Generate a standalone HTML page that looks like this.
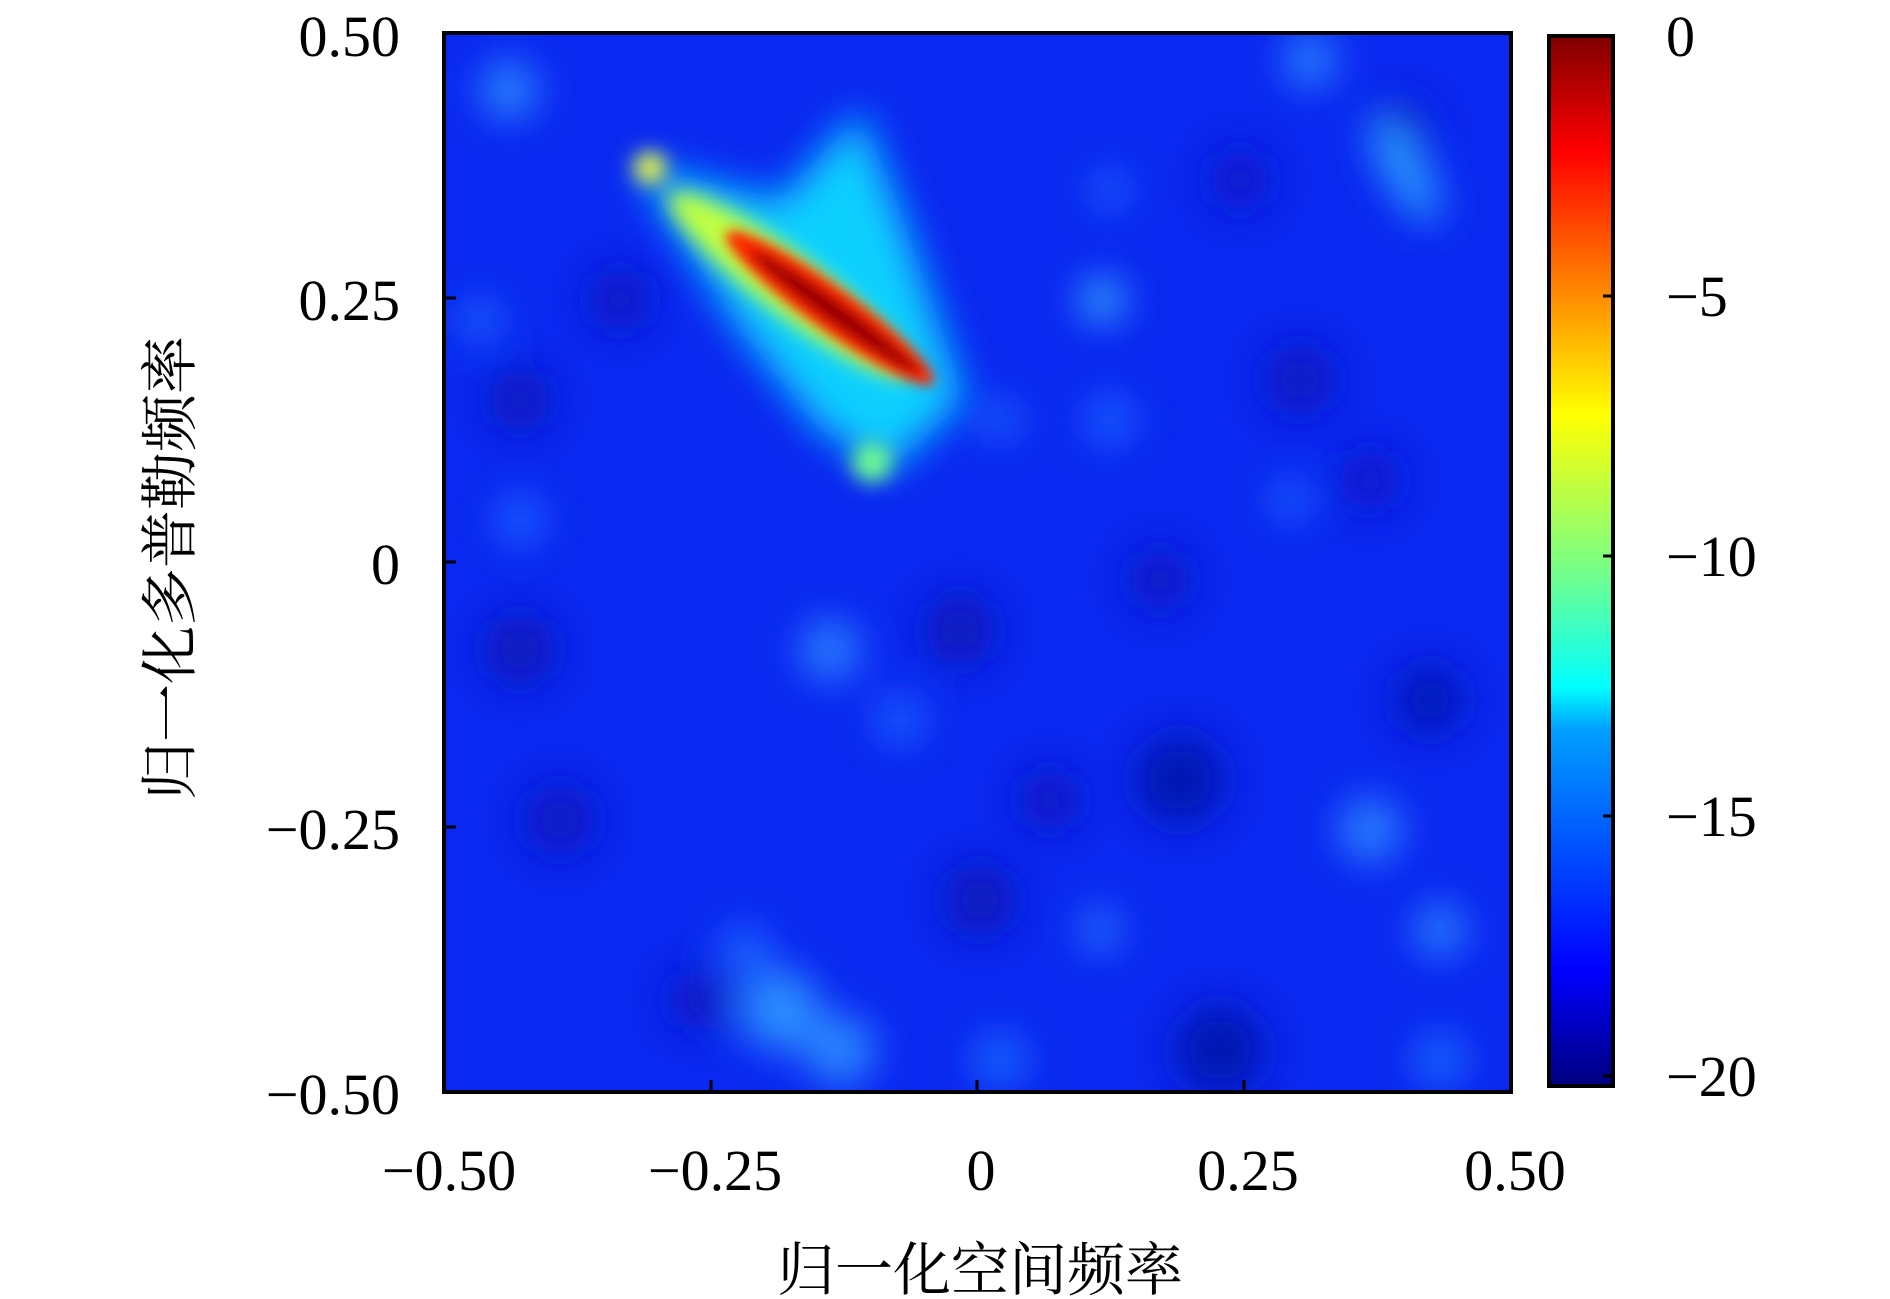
<!DOCTYPE html>
<html><head><meta charset="utf-8"><style>
html,body{margin:0;padding:0;background:#fff}
svg{display:block}
text{font-family:"Liberation Serif","Noto Serif CJK SC",serif;fill:#000}
.cj{font-family:"Liberation Serif","Noto Serif CJK SC","Noto Sans CJK SC",serif}
</style></head><body>
<svg width="1890" height="1299" viewBox="0 0 1890 1299" xmlns="http://www.w3.org/2000/svg">
<defs>
<clipPath id="pc"><rect x="444" y="33" width="1067" height="1059"/></clipPath>
<filter id="b1" filterUnits="userSpaceOnUse" x="300" y="-100" width="1400" height="1400"><feGaussianBlur stdDeviation="20"/></filter>
<filter id="b2" filterUnits="userSpaceOnUse" x="300" y="-100" width="1400" height="1400"><feGaussianBlur stdDeviation="10"/></filter>
<filter id="b3" filterUnits="userSpaceOnUse" x="300" y="-100" width="1400" height="1400"><feGaussianBlur stdDeviation="6"/></filter>
<linearGradient id="jet" x1="0" y1="1" x2="0" y2="0">
<stop offset="0" stop-color="#00007f"/><stop offset="0.11" stop-color="#0000ff"/>
<stop offset="0.34" stop-color="#00a0ff"/><stop offset="0.38" stop-color="#00ffff"/>
<stop offset="0.5" stop-color="#7fff7f"/><stop offset="0.64" stop-color="#ffff00"/>
<stop offset="0.89" stop-color="#ff0000"/><stop offset="1" stop-color="#7f0000"/>
</linearGradient>
</defs>
<g clip-path="url(#pc)">
<rect x="444" y="33" width="1067" height="1059" fill="#0a28f0"/>
<g filter="url(#b1)">
<circle cx="520" cy="400" r="30" fill="#0818b8"/>
<circle cx="620" cy="300" r="30" fill="#0818c0"/>
<circle cx="520" cy="650" r="35" fill="#0818b8"/>
<circle cx="560" cy="820" r="35" fill="#0818c0"/>
<circle cx="960" cy="630" r="35" fill="#0818b8"/>
<circle cx="1180" cy="780" r="45" fill="#0616b0"/>
<circle cx="1160" cy="580" r="30" fill="#0818c0"/>
<circle cx="1430" cy="700" r="35" fill="#0616b8"/>
<circle cx="1220" cy="1050" r="45" fill="#0616b0"/>
<circle cx="980" cy="900" r="35" fill="#0818b8"/>
<circle cx="1050" cy="800" r="30" fill="#0818c0"/>
<circle cx="1300" cy="380" r="35" fill="#0818c0"/>
<circle cx="1400" cy="130" r="30" fill="#0818c8"/>
<circle cx="1240" cy="180" r="30" fill="#0818c8"/>
<circle cx="700" cy="1000" r="30" fill="#0818c0"/>
<circle cx="1370" cy="480" r="30" fill="#0818c8"/>
<circle cx="509" cy="90" r="28" fill="#2a8cff"/>
<circle cx="1310" cy="60" r="26" fill="#2a88ff"/>
<circle cx="1102" cy="300" r="20" fill="#40c8ff"/>
<ellipse cx="1405" cy="170" rx="20" ry="60" fill="#2aa0ff" transform="rotate(-30 1405 170)"/>
<circle cx="1110" cy="190" r="18" fill="#1a70ff"/>
<circle cx="830" cy="650" r="30" fill="#2a80ff"/>
<circle cx="900" cy="720" r="25" fill="#1a60ff"/>
<circle cx="780" cy="1010" r="40" fill="#2a90ff"/>
<circle cx="840" cy="1050" r="35" fill="#2a88ff"/>
<circle cx="1370" cy="830" r="32" fill="#2a80ff"/>
<circle cx="1440" cy="930" r="25" fill="#2a88ff"/>
<circle cx="1290" cy="500" r="20" fill="#1a68ff"/>
<circle cx="745" cy="950" r="25" fill="#1a68ff"/>
<circle cx="1110" cy="420" r="25" fill="#1a60ff"/>
<circle cx="1100" cy="930" r="20" fill="#2a80ff"/>
<circle cx="480" cy="320" r="20" fill="#1a70ff"/>
<circle cx="520" cy="520" r="25" fill="#1a60ff"/>
<circle cx="1000" cy="420" r="20" fill="#1a68ff"/>
<circle cx="1000" cy="1060" r="25" fill="#1a70ff"/>
<circle cx="1440" cy="1060" r="25" fill="#1a70ff"/>
</g>
<g filter="url(#b1)">
<path d="M636 165 L780 200 L860 110 L900 210 L965 400 L890 470 L820 430 L740 330 Z" fill="#10d0ff"/>
</g>
<g filter="url(#b2)">
<circle cx="872" cy="462" r="20" fill="#70ff90"/>
<ellipse cx="790" cy="285" rx="150" ry="30" fill="#c0ff40" transform="rotate(37 790 285)"/>
<circle cx="650" cy="168" r="16" fill="#f0ff40"/>
</g>
<g filter="url(#b3)">
<ellipse cx="830" cy="308" rx="128" ry="22" fill="#ff2800" transform="rotate(36 830 308)"/>
<ellipse cx="835" cy="312" rx="105" ry="11" fill="#9a0000" transform="rotate(36 835 312)"/>
</g>
</g>
<rect x="444" y="33" width="1067" height="1059" fill="none" stroke="#000" stroke-width="4"/>
<g stroke="#000" stroke-width="3">
<line x1="444" y1="298" x2="456" y2="298"/><line x1="444" y1="562" x2="456" y2="562"/><line x1="444" y1="827" x2="456" y2="827"/>
<line x1="711" y1="1092" x2="711" y2="1080"/><line x1="977" y1="1092" x2="977" y2="1080"/><line x1="1244" y1="1092" x2="1244" y2="1080"/>
</g>
<g font-size="58" text-anchor="end">
<text x="400" y="56">0.50</text><text x="400" y="320">0.25</text><text x="400" y="584">0</text>
<text x="400" y="849">−0.25</text><text x="400" y="1114">−0.50</text>
</g>
<g font-size="58" text-anchor="middle">
<text x="449" y="1190">−0.50</text><text x="715" y="1190">−0.25</text><text x="981" y="1190">0</text>
<text x="1248" y="1190">0.25</text><text x="1515" y="1190">0.50</text>
</g>
<rect x="1549" y="36" width="64" height="1050" fill="url(#jet)" stroke="#000" stroke-width="4"/>
<g stroke="#000" stroke-width="3">
<line x1="1613" y1="296" x2="1603" y2="296"/><line x1="1613" y1="556" x2="1603" y2="556"/>
<line x1="1613" y1="816" x2="1603" y2="816"/><line x1="1613" y1="1076" x2="1603" y2="1076"/>
</g>
<g font-size="58">
<text x="1666" y="56">0</text><text x="1666" y="316">−5</text><text x="1666" y="576">−10</text>
<text x="1666" y="836">−15</text><text x="1666" y="1096">−20</text>
</g>
<text class="cj" x="980" y="1290" font-size="58" text-anchor="middle">归一化空间频率</text>
<text class="cj" transform="translate(190 568) rotate(-90)" font-size="58" text-anchor="middle">归一化多普勒频率</text>
</svg>
</body></html>
